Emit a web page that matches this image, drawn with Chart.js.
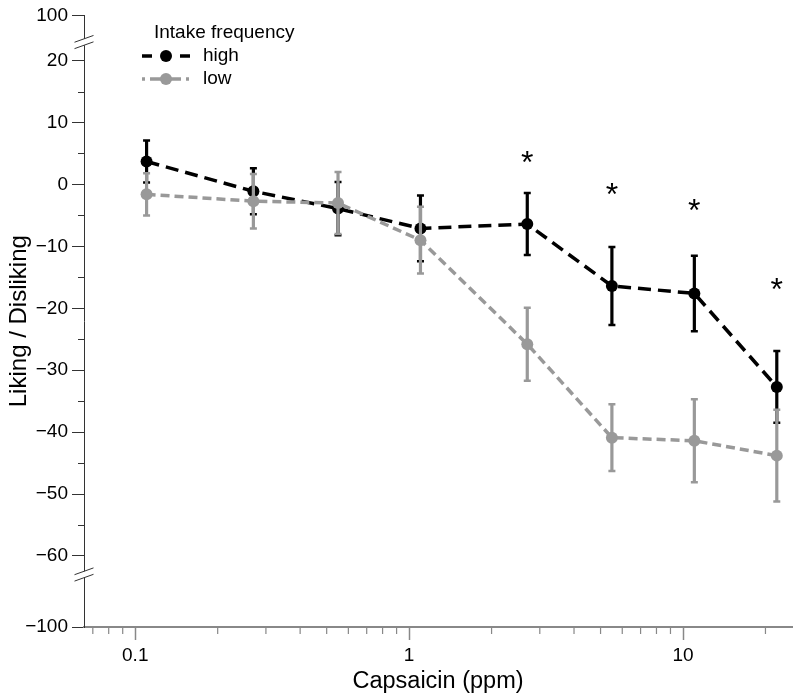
<!DOCTYPE html>
<html>
<head>
<meta charset="utf-8">
<title>Liking / Disliking vs Capsaicin</title>
<script src="https://cdn.jsdelivr.net/npm/chart.js@4.4.1/dist/chart.umd.min.js"></script>
<style>
  html, body { margin: 0; padding: 0; background: #fff; }
  #wrap { width: 800px; height: 699px; position: relative; }
</style>
</head>
<body>
<div id="wrap"><canvas id="liking-chart"></canvas></div>
<script>
// capsaicin concentrations (ppm)
const doses = [0.11, 0.27, 0.55, 1.1, 2.7, 5.5, 11, 22];
// mean rating and half error bar, per intake group
const highMean = [3.7, -1.1, -3.9, -7.1, -6.4, -16.4, -17.6, -32.7];
const highErr  = [3.4, 3.7, 4.3, 5.3, 5.0, 6.3, 6.1, 5.8];
const lowMean  = [-1.6, -2.7, -3.0, -9.0, -25.8, -40.9, -41.4, -43.8];
const lowErr   = [3.4, 4.4, 5.0, 5.4, 5.9, 5.4, 6.7, 7.4];
// significance stars
const starDoses = [2.7, 5.5, 11, 22];
const starY     = [4.4, -0.7, -3.4, -16.0];
// axis ticks
const yTicks      = [100, 20, 10, 0, -10, -20, -30, -40, -50, -60, -100];
const yMinorTicks = [15, 5, -5, -15, -25, -35, -45, -55];
const xTicks      = [0.1, 1, 10];
const xMinorTicks = [0.07, 0.08, 0.09, 0.2, 0.3, 0.4, 0.5, 0.6, 0.7, 0.8, 0.9, 2, 3, 4, 5, 6, 7, 8, 9, 20];

const legendTitle = 'Intake frequency';
const FONT = '"Liberation Sans", Arial, Helvetica, sans-serif';

Chart.defaults.font.family = FONT;
Chart.defaults.color = '#000';

// y axis with two breaks: above 20 and below -60 the range is squeezed
const BREAK_TOP = 20, BREAK_BOTTOM = -60;
const SQUEEZE_TOP = 0.0913, SQUEEZE_BOTTOM = 0.287;
function warp(v) {
    if (v > BREAK_TOP) return BREAK_TOP + (v - BREAK_TOP) * SQUEEZE_TOP;
    if (v < BREAK_BOTTOM) return BREAK_BOTTOM + (v - BREAK_BOTTOM) * SQUEEZE_BOTTOM;
    return v;
}
function unwarp(d) {
    if (d > BREAK_TOP) return BREAK_TOP + (d - BREAK_TOP) / SQUEEZE_TOP;
    if (d < BREAK_BOTTOM) return BREAK_BOTTOM + (d - BREAK_BOTTOM) / SQUEEZE_BOTTOM;
    return d;
}

class BrokenLinearScale extends Chart.LinearScale {
    getPixelForWarped(d) {
        const lo = warp(this.min), hi = warp(this.max);
        return this.getPixelForDecimal((d - lo) / (hi - lo));
    }
    getPixelForValue(value) {
        if (value === null || value === undefined) return NaN;
        return this.getPixelForWarped(warp(value));
    }
    getValueForPixel(pixel) {
        const lo = warp(this.min), hi = warp(this.max);
        return unwarp(lo + this.getDecimalForPixel(pixel) * (hi - lo));
    }
}
BrokenLinearScale.id = 'brokenLinear';
BrokenLinearScale.defaults = Chart.LinearScale.defaults;
Chart.register(BrokenLinearScale);

function minusLabel(v) {
    return v < 0 ? '\u2212' + Math.abs(v) : String(v);
}

// error bars, drawn under each dataset's line and points
const errorBarPlugin = {
    id: 'errorBars',
    beforeDatasetDraw(chart, args) {
        const ds = chart.data.datasets[args.index];
        if (!ds.errorBars) return;
        const ctx = chart.ctx;
        const x = chart.scales.x, y = chart.scales.y;
        ctx.save();
        ctx.setLineDash([]);
        ctx.strokeStyle = ds.borderColor;
        ds.data.forEach((p, i) => {
            const px = x.getPixelForValue(p.x);
            const top = y.getPixelForValue(p.y + ds.errorBars[i]);
            const bot = y.getPixelForValue(p.y - ds.errorBars[i]);
            ctx.lineWidth = 3.2;
            ctx.beginPath();
            ctx.moveTo(px, top);
            ctx.lineTo(px, bot);
            ctx.stroke();
            ctx.lineWidth = 2.5;
            ctx.beginPath();
            ctx.moveTo(px - 3.5, top); ctx.lineTo(px + 3.5, top);
            ctx.moveTo(px - 3.5, bot); ctx.lineTo(px + 3.5, bot);
            ctx.stroke();
        });
        ctx.restore();
    }
};

// minor ticks, axis breaks, stars and the legend
const decorPlugin = {
    id: 'decor',
    afterDraw(chart) {
        const ctx = chart.ctx;
        const x = chart.scales.x, y = chart.scales.y;
        const area = chart.chartArea;
        ctx.save();

        // minor ticks
        ctx.strokeStyle = '#333';
        ctx.lineWidth = 1;
        ctx.beginPath();
        yMinorTicks.forEach(v => {
            const py = Math.round(y.getPixelForValue(v)) + 0.5;
            ctx.moveTo(area.left - 6, py);
            ctx.lineTo(area.left, py);
        });
        ctx.stroke();
        ctx.strokeStyle = '#888';
        ctx.lineWidth = 1.2;
        ctx.beginPath();
        xMinorTicks.forEach(v => {
            const px = x.getPixelForValue(v);
            ctx.moveTo(px, area.bottom);
            ctx.lineTo(px, area.bottom + 7);
        });
        ctx.stroke();

        // axis breaks
        [BREAK_TOP + 3, BREAK_BOTTOM - 3].forEach(d => {
            const c = y.getPixelForWarped(d);
            ctx.fillStyle = '#fff';
            ctx.fillRect(area.left - 3, c - 3.2, 6, 6.4);
            ctx.strokeStyle = '#333';
            ctx.lineWidth = 1;
            ctx.beginPath();
            [-3.2, 3.2].forEach(off => {
                ctx.moveTo(area.left - 9.5, c + off + 3.4);
                ctx.lineTo(area.left + 9.5, c + off - 3.4);
            });
            ctx.stroke();
        });

        // legend
        ctx.font = '19px ' + FONT;
        ctx.fillStyle = '#000';
        ctx.textBaseline = 'middle';
        ctx.textAlign = 'left';
        ctx.fillText(legendTitle, 154, 33);
        chart.data.datasets.forEach((ds, i) => {
            const ly = 56 + i * 23;
            ctx.strokeStyle = ds.borderColor;
            ctx.lineWidth = ds.borderWidth;
            ctx.setLineDash(ds.legendDash);
            ctx.beginPath();
            ctx.moveTo(142, ly);
            ctx.lineTo(190, ly);
            ctx.stroke();
            ctx.setLineDash([]);
            ctx.fillStyle = ds.borderColor;
            ctx.beginPath();
            ctx.arc(166, ly, ds.pointRadius, 0, Math.PI * 2);
            ctx.fill();
            ctx.fillStyle = '#000';
            ctx.fillText(ds.label, 203, ly);
        });

        // significance stars
        ctx.font = '32px ' + FONT;
        ctx.textAlign = 'center';
        ctx.textBaseline = 'alphabetic';
        const m = ctx.measureText('*');
        const shift = (m.actualBoundingBoxAscent - m.actualBoundingBoxDescent) / 2;
        starDoses.forEach((d, i) => {
            ctx.fillText('*', x.getPixelForValue(d), y.getPixelForValue(starY[i]) + shift);
        });

        ctx.restore();
    }
};

const ctx = document.getElementById('liking-chart').getContext('2d');
const chart = new Chart(ctx, {
    type: 'line',
    data: {
        datasets: [{
            label: 'high',
            data: doses.map((d, i) => ({ x: d, y: highMean[i] })),
            errorBars: highErr,
            borderColor: '#000',
            backgroundColor: '#000',
            pointBackgroundColor: '#000',
            borderWidth: 3.5,
            borderDash: [13, 7],
            legendDash: [10, 28],
            pointRadius: 6,
            pointBorderWidth: 0,
            fill: false,
            order: 1
        }, {
            label: 'low',
            data: doses.map((d, i) => ({ x: d, y: lowMean[i] })),
            errorBars: lowErr,
            borderColor: '#999',
            backgroundColor: '#999',
            pointBackgroundColor: '#999',
            borderWidth: 3.5,
            borderDash: [9, 5],
            legendDash: [3, 5, 11, 9, 11, 5, 3],
            pointRadius: 6,
            pointBorderWidth: 0,
            fill: false,
            order: 0
        }]
    },
    options: {
        responsive: true,
        maintainAspectRatio: false,
        animation: false,
        layout: { padding: { top: 15, right: 8, bottom: 0, left: 0 } },
        plugins: {
            legend: { display: false },
            tooltip: { enabled: false }
        },
        scales: {
            x: {
                type: 'logarithmic',
                min: 0.065,
                max: 25,
                afterBuildTicks: s => { s.ticks = xTicks.map(v => ({ value: v })); },
                afterFit: s => { s.height = 72; },
                grid: { drawOnChartArea: false, tickLength: 13, tickColor: '#888', tickWidth: 1.5 },
                border: { color: '#888', width: 2 },
                ticks: {
                    autoSkip: false,
                    maxRotation: 0,
                    padding: 4,
                    font: { size: 19 },
                    color: '#000',
                    callback: v => String(v)
                },
                title: {
                    display: true,
                    text: 'Capsaicin (ppm)',
                    font: { size: 23.5 },
                    color: '#000',
                    padding: { top: 0, bottom: 3 }
                }
            },
            y: {
                type: 'brokenLinear',
                min: -100,
                max: 100,
                afterBuildTicks: s => { s.ticks = yTicks.map(v => ({ value: v })); },
                afterFit: s => { s.width = 84; },
                grid: { drawOnChartArea: false, tickLength: 12, tickColor: '#333', tickWidth: 1 },
                border: { color: '#333', width: 1 },
                ticks: {
                    autoSkip: false,
                    padding: 4,
                    font: { size: 19 },
                    color: '#000',
                    callback: v => minusLabel(v)
                },
                title: {
                    display: true,
                    text: 'Liking / Disliking',
                    font: { size: 24 },
                    color: '#000',
                    padding: { top: 5, bottom: 0 }
                }
            }
        }
    },
    plugins: [errorBarPlugin, decorPlugin]
});
</script>
</body>
</html>
